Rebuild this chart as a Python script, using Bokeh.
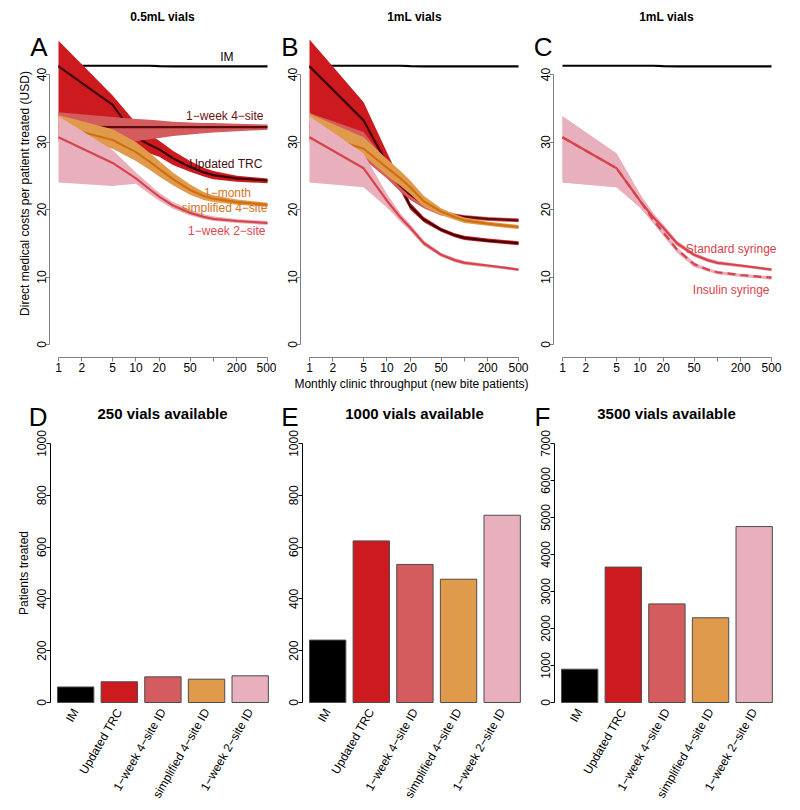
import math
from bokeh.plotting import figure
from bokeh.layouts import column, row
from bokeh.models import Label, FixedTicker, Range1d
from bokeh.embed import file_html
from bokeh.resources import INLINE

# ---------------- data ----------------
throughput = [1, 5, 10, 15, 20, 30, 50, 75, 100, 200, 500]
x_ticks = [1, 2, 5, 10, 20, 50, 100, 200, 500]
x_tick_hidden = [100]
y_ticks_cost = [0, 10, 20, 30, 40]

im_cost = [41.3, 41.3, 41.3, 41.3, 41.25, 41.2, 41.2, 41.2, 41.2, 41.2, 41.2]

# Panel A: 0.5mL vials
a_trc = [41.2, 35.5, 30.7, 29.6, 28.9, 27.6, 26.3, 25.5, 25.1, 24.6, 24.3]
a_trc_hi = [45.0, 36.9, 32.8, 31.1, 30.2, 28.7, 27.2, 26.2, 25.7, 25.0, 24.6]
a_trc_lo = [33.5, 31.0, 29.3, 28.3, 27.8, 26.6, 25.6, 24.9, 24.5, 24.1, 23.9]
a_4s = [32.3, 32.2, 32.2, 32.2, 32.2, 32.2, 32.2, 32.2, 32.2, 32.2, 32.2]
a_4s_hi = [34.4, 33.7, 33.4, 33.3, 33.2, 33.0, 32.9, 32.8, 32.8, 32.7, 32.6]
a_4s_lo = [30.0, 29.8, 30.1, 30.4, 30.6, 30.9, 31.1, 31.3, 31.4, 31.6, 31.8]
a_sim = [32.4, 30.3, 28.5, 27.1, 26.0, 24.5, 22.9, 22.0, 21.6, 21.1, 20.7]
a_sim_hi = [34.0, 31.9, 30.0, 28.4, 27.2, 25.5, 23.7, 22.6, 22.1, 21.5, 21.0]
a_sim_lo = [31.0, 29.0, 27.2, 25.9, 24.9, 23.6, 22.2, 21.4, 21.1, 20.7, 20.4]
a_2s = [30.7, 26.9, 24.6, 23.0, 21.9, 20.6, 19.5, 18.9, 18.6, 18.3, 18.0]
a_2s_hi = [33.8, 28.8, 25.5, 23.7, 22.5, 21.1, 20.0, 19.3, 19.0, 18.6, 18.3]
a_2s_lo = [24.0, 23.5, 23.8, 22.3, 21.3, 20.1, 19.1, 18.6, 18.3, 18.0, 17.7]

# Panel B: 1mL vials
b_trc = [41.2, 33.2, 26.8, 23.4, 20.5, 18.5, 17.0, 16.2, 15.8, 15.4, 15.0]
b_trc_hi = [45.2, 35.9, 28.5, 24.2, 21.0, 18.9, 17.3, 16.5, 16.1, 15.7, 15.3]
b_trc_lo = [34.3, 30.5, 25.6, 22.7, 20.0, 18.1, 16.7, 15.9, 15.5, 15.1, 14.7]
b_4s = [32.3, 29.0, 25.6, 23.5, 22.2, 20.8, 19.5, 19.1, 18.9, 18.6, 18.4]
b_4s_hi = [34.3, 31.5, 27.0, 24.5, 23.0, 21.4, 19.9, 19.4, 19.2, 18.9, 18.7]
b_4s_lo = [30.0, 27.5, 24.6, 22.6, 21.4, 20.2, 19.1, 18.8, 18.6, 18.3, 18.1]
b_sim = [31.5, 29.0, 26.2, 24.6, 23.3, 21.2, 19.7, 18.9, 18.4, 17.9, 17.4]
b_sim_hi = [34.2, 30.7, 27.5, 25.7, 24.3, 22.0, 20.2, 19.3, 18.8, 18.2, 17.7]
b_sim_lo = [30.5, 28.0, 25.0, 23.5, 22.3, 20.4, 19.2, 18.5, 18.0, 17.6, 17.1]
b_2s = [30.7, 26.1, 21.3, 18.8, 17.3, 15.0, 13.3, 12.5, 12.1, 11.7, 11.1]
b_2s_hi = [33.8, 28.3, 22.3, 19.4, 17.8, 15.4, 13.6, 12.8, 12.4, 11.9, 11.3]
b_2s_lo = [24.0, 23.3, 20.3, 18.2, 16.8, 14.6, 13.0, 12.2, 11.8, 11.4, 10.9]

# Panel C: 1mL vials, syringe type (1-week 2-site)
c_std = [30.7, 26.1, 21.3, 18.8, 17.3, 15.0, 13.3, 12.5, 12.1, 11.7, 11.1]
c_std_hi = [33.8, 28.3, 22.3, 19.4, 17.8, 15.4, 13.6, 12.8, 12.4, 11.9, 11.3]
c_std_lo = [24.0, 23.3, 20.3, 18.2, 16.8, 14.6, 13.0, 12.2, 11.8, 11.4, 10.9]
c_ins = [30.7, 26.1, 21.3, 18.4, 16.6, 14.1, 11.9, 11.1, 10.7, 10.3, 9.9]
c_ins_hi = [33.8, 28.3, 22.3, 19.0, 17.1, 14.4, 12.2, 11.3, 10.9, 10.5, 10.1]
c_ins_lo = [24.0, 23.3, 20.3, 17.9, 16.1, 13.6, 11.5, 10.8, 10.4, 10.0, 9.6]

# Bottom panels: patients treated
regimens = ["IM", "Updated TRC", "1\u2212week 4\u2212site ID", "simplified 4\u2212site ID", "1\u2212week 2\u2212site ID"]
patients_250 = [60, 80, 99, 90, 103]
patients_1000 = [241, 624, 533, 476, 723]
patients_3500 = [900, 3660, 2665, 2290, 4755]

# ---------------- styles / layout (page pixels) ----------------
FONT = "Liberation Sans"
TRC_BAND, TRC_LINE = "#CC1A1E", "#3D0507"
FS_BAND, FS_LINE = "#D45B5E", "#5C0A0C"
SIM_BAND, SIM_LINE = "#E09A4B", "#D06F12"
TS_BAND, TS_LINE = "#E8B0BC", "#D8434B"
bar_colors = ["#000000", TRC_BAND, FS_BAND, SIM_BAND, TS_BAND]

TOP_Y0, TOP_H = 0, 396
BOT_Y0, BOT_H = 396, 406
DECADE_PX = 77.44          # px per decade on the log axis
COST_PX = 6.75             # px per USD
COST_ZERO_Y = 344          # page y of cost 0
XAXIS_Y = 357              # page y of the x axis line
BAR_ZERO_Y = 702           # page y of 0 patients
BAR_AXIS_PX = 259.0        # px for the full y-axis span
BAR_UNIT_PX = 36.36        # px per barplot unit


def style_axes(p, axis_color):
    for ax in (p.xaxis[0], p.yaxis[0]):
        ax.axis_line_color = axis_color
        ax.major_tick_line_color = axis_color
        ax.minor_tick_line_color = None
        ax.major_tick_out = 4
        ax.major_tick_in = 0
        ax.major_label_text_font = FONT
        ax.major_label_text_font_size = "12px"
        ax.major_label_text_color = "#000000"
        ax.axis_label_text_font = FONT
        ax.axis_label_text_font_size = "12px"
        ax.axis_label_text_font_style = "normal"
        ax.axis_label_text_color = "#000000"
    p.yaxis.major_tick_out = 4
    p.yaxis.major_label_orientation = "vertical"
    p.yaxis.major_label_standoff = 0
    p.xaxis.major_label_standoff = 1


def base_fig(width, height, xr, yr, x_type="linear"):
    p = figure(width=width, height=height, x_axis_type=x_type,
               x_range=xr, y_range=yr, output_backend="svg", toolbar_location=None,
               min_border=0)
    p.outline_line_color = None
    p.grid.visible = False
    return p


def page_label(p, fx0, fy0, fh, px, py, text, size, color="#000000", align="center",
               bold=False, angle=0.0):
    p.add_layout(Label(x=px - fx0, y=fh - (py - fy0), x_units="screen", y_units="screen",
                       text=text, text_font=FONT, text_font_size=size, text_color=color,
                       text_align=align, text_baseline="middle", angle=angle,
                       text_font_style="bold" if bold else "normal"))


def data_label(p, x, y, text, color, align, xo, yo):
    p.add_layout(Label(x=x, y=y, text=text, x_offset=xo, y_offset=yo,
                       text_font=FONT, text_font_size="12px", text_color=color,
                       text_align=align, text_baseline="middle"))


def top_fig(x0, width, one_px, title, title_x, letter, letter_x):
    xr = Range1d(10 ** ((x0 - one_px) / DECADE_PX), 10 ** ((x0 + width - one_px) / DECADE_PX))
    yr = Range1d((COST_ZERO_Y - (TOP_Y0 + TOP_H)) / COST_PX, (COST_ZERO_Y - TOP_Y0) / COST_PX)
    p = base_fig(width, TOP_H, xr, yr, "log")
    style_axes(p, "#7F7F7F")
    p.xaxis.ticker = FixedTicker(ticks=x_ticks)
    p.xaxis.major_label_overrides = {t: ("" if t in x_tick_hidden else str(t)) for t in x_ticks}
    p.yaxis.ticker = FixedTicker(ticks=y_ticks_cost)
    p.xaxis.bounds = (x_ticks[0], x_ticks[-1])
    p.yaxis.bounds = (y_ticks_cost[0], y_ticks_cost[-1])
    p.xaxis.fixed_location = (COST_ZERO_Y - XAXIS_Y) / COST_PX
    p.yaxis.fixed_location = 10 ** (-9 / DECADE_PX)
    page_label(p, x0, TOP_Y0, TOP_H, title_x, 16, title, "12px", bold=True)
    page_label(p, x0, TOP_Y0, TOP_H, letter_x, 46, letter, "26px", align="right")
    return p


def band_line(p, lo, hi, mid, band_color, line_color):
    p.varea(x=throughput, y1=lo, y2=hi, fill_color=band_color, fill_alpha=1.0)
    p.line(throughput, mid, line_color=line_color, line_width=2.2)


xe = throughput[-1]

# Panel A
pA = top_fig(0, 276, 58, "0.5mL vials", 162, "A", 47)
page_label(pA, 0, TOP_Y0, TOP_H, 24, 193, "Direct medical costs per patient treated (USD)",
           "12px", angle=math.pi / 2)
pA.line(throughput, im_cost, line_color="#000000", line_width=2.2)
band_line(pA, a_trc_lo, a_trc_hi, a_trc, TRC_BAND, TRC_LINE)
band_line(pA, a_4s_lo, a_4s_hi, a_4s, FS_BAND, FS_LINE)
band_line(pA, a_sim_lo, a_sim_hi, a_sim, SIM_BAND, SIM_LINE)
band_line(pA, a_2s_lo, a_2s_hi, a_2s, TS_BAND, TS_LINE)
data_label(pA, xe, im_cost[-1], "IM", "#000000", "right", -34, 9)
data_label(pA, xe, a_4s[-1], "1\u2212week 4\u2212site", "#6E0F10", "right", -4, 11)
data_label(pA, xe, a_trc[-1], "Updated TRC", "#4A0C0C", "right", -5, 16)
data_label(pA, xe, a_sim[-1], "1\u2212month", "#D2741A", "center", -40, 12)
data_label(pA, xe, a_sim[-1], "simplified 4\u2212site", "#D2741A", "right", 0, -3)
data_label(pA, xe, a_2s[-1], "1\u2212week 2\u2212site", "#E0464E", "right", -2, -8)

# Panel B
pB = top_fig(276, 256, 309, "1mL vials", 414, "B", 298)
page_label(pB, 276, TOP_Y0, TOP_H, 411, 383, "Monthly clinic throughput (new bite patients)", "12px")
pB.line(throughput, im_cost, line_color="#000000", line_width=2.2)
band_line(pB, b_trc_lo, b_trc_hi, b_trc, TRC_BAND, TRC_LINE)
band_line(pB, b_4s_lo, b_4s_hi, b_4s, FS_BAND, FS_LINE)
band_line(pB, b_sim_lo, b_sim_hi, b_sim, SIM_BAND, SIM_LINE)
band_line(pB, b_2s_lo, b_2s_hi, b_2s, TS_BAND, TS_LINE)

# Panel C
pC = top_fig(532, 260, 562, "1mL vials", 666, "C", 552)
pC.line(throughput, im_cost, line_color="#000000", line_width=2.2)
pC.varea(x=throughput, y1=c_std_lo, y2=c_std_hi, fill_color=TS_BAND)
pC.varea(x=throughput, y1=c_ins_lo, y2=c_ins_hi, fill_color=TS_BAND)
pC.line(throughput, c_std, line_color=TS_LINE, line_width=2.2)
pC.line(throughput, c_ins, line_color=TS_LINE, line_width=2.2, line_dash="8 5")
data_label(pC, xe, c_std[-1], "Standard syringe", TS_LINE, "right", 5, 21)
data_label(pC, xe, c_ins[-1], "Insulin syringe", TS_LINE, "right", -2, -12)


# Bottom bar panels (barplot layout: width 1, space 0.2)
bar_pos = [round(0.7 + 1.2 * i, 2) for i in range(len(regimens))]


def bar_fig(x0, width, zero_px, values, ymax, step, title, title_x, letter, letter_x):
    xr = Range1d((x0 - zero_px) / BAR_UNIT_PX, (x0 + width - zero_px) / BAR_UNIT_PX)
    k = BAR_AXIS_PX / ymax
    yr = Range1d((BAR_ZERO_Y - (BOT_Y0 + BOT_H)) / k, (BAR_ZERO_Y - BOT_Y0) / k)
    p = base_fig(width, BOT_H, xr, yr)
    style_axes(p, "#000000")
    p.xaxis.ticker = FixedTicker(ticks=bar_pos)
    p.xaxis.major_label_overrides = dict(zip(bar_pos, regimens))
    p.xaxis.axis_line_color = None
    p.xaxis.major_tick_line_color = None
    p.xaxis.major_label_orientation = math.pi / 3
    p.xaxis.major_label_standoff = 3
    p.xaxis.fixed_location = 0
    p.yaxis.ticker = FixedTicker(ticks=list(range(0, ymax + 1, step)))
    p.yaxis.bounds = (0, ymax)
    p.yaxis.fixed_location = 0
    p.vbar(x=bar_pos, top=values, bottom=0, width=1, fill_color=bar_colors,
           line_color="#4D4D4D", line_width=1)
    page_label(p, x0, BOT_Y0, BOT_H, title_x, 413, title, "15px", bold=True)
    page_label(p, x0, BOT_Y0, BOT_H, letter_x, 416, letter, "26px", align="right")
    return p


pD = bar_fig(0, 276, 49.7, patients_250, 1000, 200, "250 vials available", 162, "D", 47)
pD.yaxis.axis_label = "Patients treated"
pD.yaxis.axis_label_standoff = 4
pE = bar_fig(276, 256, 301.7, patients_1000, 1000, 200, "1000 vials available", 414, "E", 298)
pF = bar_fig(532, 260, 553.7, patients_3500, 7000, 1000, "3500 vials available", 666, "F", 550)

layout = column(row(pA, pB, pC), row(pD, pE, pF))
open("out.html", "w").write(file_html(layout, INLINE))
